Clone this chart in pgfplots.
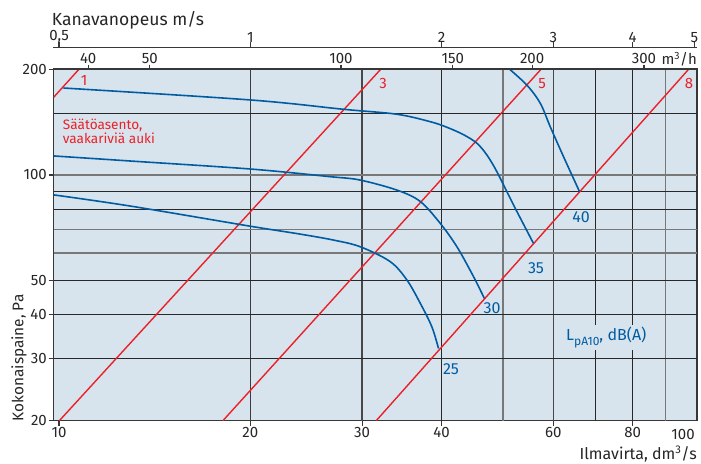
\documentclass[border=0pt]{standalone}
\usepackage{fontspec}
\setmainfont{Fira Sans}
\usepackage{pgfplots}
\pgfplotsset{compat=1.18}
\definecolor{bgc}{RGB}{215,228,237}
\definecolor{cblue}{RGB}{0,92,162}
\definecolor{cred}{RGB}{236,32,40}
\definecolor{gdark}{RGB}{40,40,40}
\definecolor{ggrey}{RGB}{120,120,120}
\definecolor{axc}{RGB}{55,55,55}
\newcommand{\fs}{\fontsize{15}{17}\selectfont}
\begin{document}
\begin{tikzpicture}[x=1pt,y=1pt]
\useasboundingbox (0,0) rectangle (701,463);
\begin{axis}[
  at={(53.5pt,42.3pt)}, anchor=south west, scale only axis,
  width=643.5pt, height=351.5pt,
  xmode=log, ymode=log, xmin=9.8, xmax=101, ymin=20, ymax=200,
  axis background/.style={fill=bgc},
  axis line style={axc, line width=1.5pt},
  xtick={10,20,30,40,60,80}, xticklabels={10,20,30,40,60,80},
  ytick={20,30,40,50,100,200}, yticklabels={20,30,40,50,100,200},
  xminorticks=false, yminorticks=false,
  xtick pos=left, ytick pos=left,
  tick align=outside, major tick length=5pt, tick style={axc, line width=1.2pt},
  tick label style={font=\fs, text=black!85},
  xticklabel style={inner sep=1pt}, yticklabel style={inner sep=1.5pt},
]
% grid lines
\draw[ggrey!50!black, line width=1.5pt] (axis cs:20,20) -- (axis cs:20,200);
\draw[ggrey!60!black, line width=1.3pt] (axis cs:30,20) -- (axis cs:30,200);
\draw[gdark, line width=1.2pt] (axis cs:40,20) -- (axis cs:40,200);
\draw[ggrey, line width=1.2pt] (axis cs:50,20) -- (axis cs:50,200);
\draw[ggrey!60!black, line width=1.2pt] (axis cs:60,20) -- (axis cs:60,200);
\draw[gdark, line width=1.1pt] (axis cs:70,20) -- (axis cs:70,200);
\draw[gdark, line width=1.1pt] (axis cs:80,20) -- (axis cs:80,200);
\draw[ggrey, line width=1.1pt] (axis cs:90,20) -- (axis cs:90,200);
\draw[gdark, line width=1.1pt] (axis cs:9.8,30) -- (axis cs:101,30);
\draw[gdark, line width=1.1pt] (axis cs:9.8,40) -- (axis cs:101,40);
\draw[gdark, line width=1.1pt] (axis cs:9.8,50) -- (axis cs:101,50);
\draw[ggrey, line width=1.1pt] (axis cs:9.8,60) -- (axis cs:101,60);
\draw[ggrey, line width=1.1pt] (axis cs:9.8,70) -- (axis cs:101,70);
\draw[gdark, line width=1.1pt] (axis cs:9.8,80) -- (axis cs:101,80);
\draw[gdark, line width=1.1pt] (axis cs:9.8,90) -- (axis cs:101,90);
\draw[ggrey, line width=1.1pt] (axis cs:9.8,100) -- (axis cs:101,100);
\draw[gdark, line width=1.1pt] (axis cs:9.8,150) -- (axis cs:101,150);
% red regulation lines
\addplot[cred, line width=1.4pt] coordinates {(9.8,166.2) (10.75,200)};
\addplot[cred, line width=1.4pt] coordinates {(10.01,20) (32.1,200)};
\addplot[cred, line width=1.4pt] coordinates {(18.11,20) (57.4,200)};
\addplot[cred, line width=1.4pt] coordinates {(31.57,20) (98.0,200)};
% blue sound curves
\addplot[cblue, line width=1.6pt, smooth, tension=0.55] coordinates {
 (10.16,176.8) (20.0,163.5) (28.03,153.8) (34.02,148.9) (38.40,141.8)
 (40.79,136.7) (43.33,130.2) (45.48,123.1) (47.15,114.0) (48.89,102.2)
 (51.93,82.2) (55.83,63.9)};
\addplot[cblue, line width=1.6pt, smooth, tension=0.55] coordinates {
 (9.8,113.3) (12.94,109.6) (20.0,104.0) (26.72,98.9) (29.72,96.8) (34.02,90.6)
 (37.03,84.1) (39.81,72.9) (42.30,62.5) (44.92,51.4) (46.71,44.6)};
\addplot[cblue, line width=1.6pt, smooth, tension=0.55] coordinates {
 (9.8,87.8) (12.94,81.6) (20.0,71.5) (23.96,67.9) (27.04,65.3) (29.79,62.5)
 (33.21,56.7) (35.28,50.3) (37.03,43.2) (38.63,37.0) (39.57,32.1)};
\addplot[cblue, line width=1.6pt, smooth, tension=0.55] coordinates {
 (50.7,203) (54.5,180.3) (57.22,160.0) (59.33,137.2) (62.26,112.7) (65.97,89.7)};
\end{axis}
% top m3/h axis
\begin{axis}[
  at={(53.5pt,42.3pt)}, anchor=south west, scale only axis,
  width=643.5pt, height=351.5pt,
  xmode=log, ymode=log, xmin=35.28, xmax=363.6, ymin=20, ymax=200,
  axis x line*=top, axis y line=none,
  axis line style={axc, line width=1.5pt},
  xtick={40,50,100,150,200,300}, xticklabels={40,50,100,150,200,300},
  xminorticks=false,
  tick align=outside, major tick length=4.5pt, tick style={axc, line width=1.2pt},
  tick label style={font=\fs, text=black!85},
  xticklabel style={inner sep=0.5pt},
]
\end{axis}
% top m/s axis
\begin{axis}[
  at={(53.5pt,415.3pt)}, anchor=north west, scale only axis,
  width=643.5pt, height=10pt,
  xmode=log, xmin=0.49, xmax=5.05, ymin=0, ymax=1,
  axis x line*=top, axis y line=none,
  axis line style={axc, line width=1.5pt},
  xtick={0.5,1,2,3,4,5}, xticklabels={{0,5},1,2,3,4,5},
  xminorticks=false,
  tick align=outside, major tick length=5.5pt, tick style={axc, line width=1.2pt},
  tick label style={font=\fs, text=black!85},
  xticklabel style={inner sep=0pt, yshift=-0.5pt},
]
\end{axis}
% texts
\node[anchor=base west, font=\fontsize{17.5}{19}\selectfont, text=black!85, inner sep=0pt] at (51.7,437.5) {Kanavanopeus m/s};
\node[anchor=base east, font=\fs, text=black!85, inner sep=0pt] at (697,398) {m\textsuperscript{3}/h};
\node[font=\fs, text=black!85] at (683,28.5) {100};
\node[anchor=base east, font=\fontsize{16}{18}\selectfont, text=black!85, inner sep=0pt] at (697,3.5) {Ilmavirta, dm\textsuperscript{3}/s};
\node[anchor=base west, rotate=90, font=\fontsize{15.4}{17}\selectfont, text=black!85, inner sep=0pt] at (23.5,41.5) {Kokonaispaine, Pa};
% red labels
\node[font=\fs, text=cred] at (84,383) {1};
\node[font=\fs, text=cred] at (383,379) {3};
\node[font=\fs, text=cred] at (542,379) {5};
\node[font=\fs, text=cred] at (689,379) {8};
\node[anchor=base west, font=\fontsize{13.6}{15}\selectfont, text=cred, inner sep=0pt] at (62.7,333) {Säätöasento,};
\node[anchor=base west, font=\fontsize{13.6}{15}\selectfont, text=cred, inner sep=0pt] at (62.7,319.7) {vaakariviä auki};
% blue labels
\node[font=\fontsize{16}{18}\selectfont, text=cblue] at (581,246) {40};
\node[font=\fontsize{16}{18}\selectfont, text=cblue] at (536,195) {35};
\node[font=\fontsize{16}{18}\selectfont, text=cblue] at (492,155) {30};
\node[font=\fontsize{16}{18}\selectfont, text=cblue] at (451,94) {25};
\node[anchor=base west, font=\fontsize{16}{18}\selectfont, text=cblue, fill=bgc, inner sep=2pt] at (564,122.3) {L\raisebox{-0.32em}{\fontsize{12}{13}\selectfont pA10}, dB(A)};
\end{tikzpicture}
\end{document}
